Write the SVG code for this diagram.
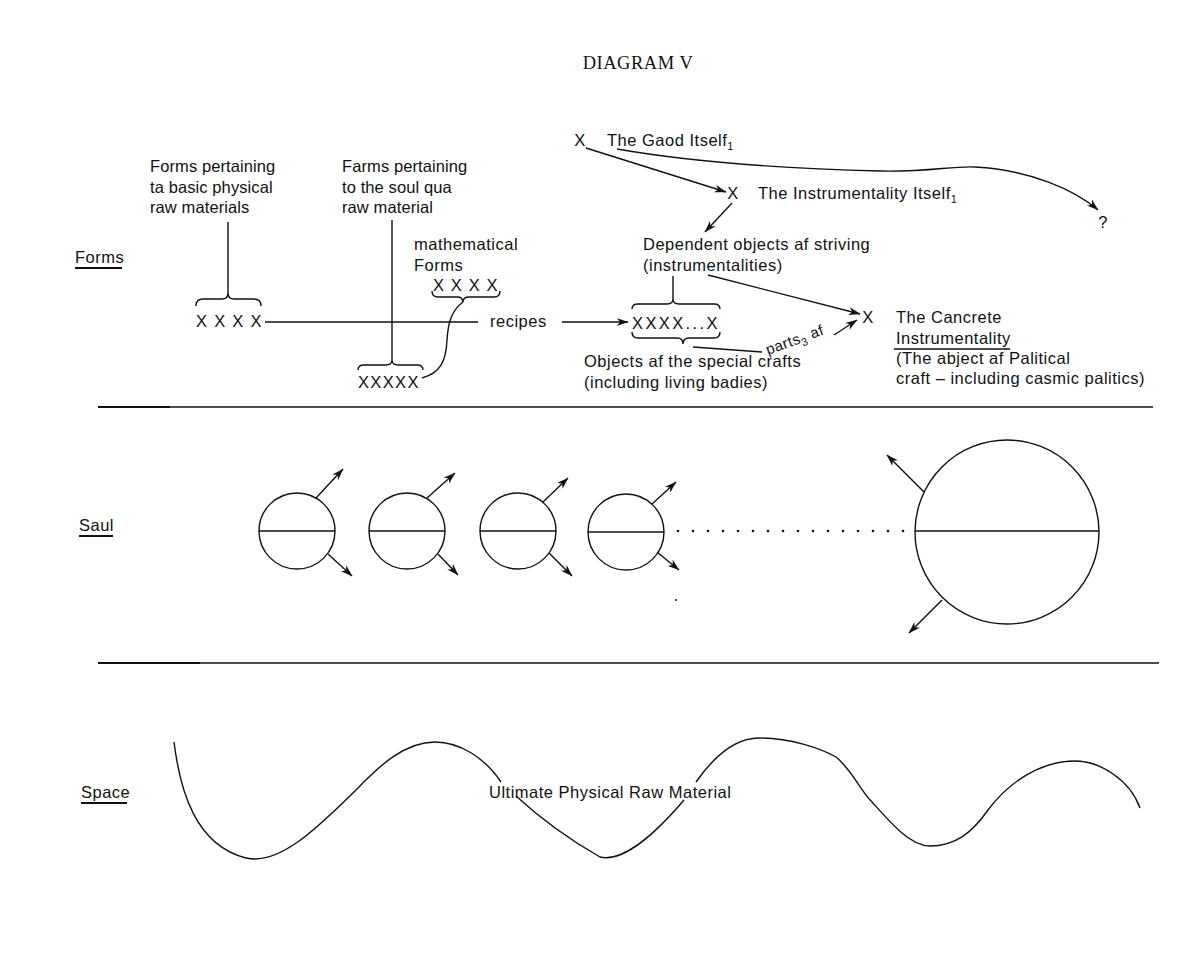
<svg xmlns="http://www.w3.org/2000/svg" width="1200" height="970" viewBox="0 0 1200 970">
<style>
.t{font-family:"Liberation Sans",Arial,sans-serif;font-size:16.5px;letter-spacing:0.5px;fill:#111}
.tn{letter-spacing:0.1px}
.sub{font-size:11px}
.ln{stroke:#111;stroke-width:1.4;fill:none}
.ul{stroke:#111;stroke-width:2;fill:none}
.arr{marker-end:url(#ah)}
.dot{fill:#111}
</style>
<defs>
<marker id="ah" viewBox="0 0 12 8" refX="11.5" refY="4" markerWidth="12" markerHeight="8" markerUnits="userSpaceOnUse" orient="auto">
<path d="M0,0 L12,4 L0,8 L3.5,4 Z" fill="#111"/>
</marker>
</defs>
<rect width="1200" height="970" fill="#fff"/>

<text id="title" x="638" y="69" text-anchor="middle" style="font-family:'Liberation Serif','Times New Roman',serif;font-size:18.5px;letter-spacing:0.5px;fill:#111">DIAGRAM V</text>

<g id="label-forms"><text class="t" x="75" y="263">Forms</text><line class="ul" x1="75" y1="268" x2="122" y2="268"/></g>
<g id="label-saul"><text class="t" x="79" y="531">Saul</text><line class="ul" x1="79" y1="536" x2="113" y2="536"/></g>
<g id="label-space"><text class="t" x="81" y="798">Space</text><line class="ul" x1="81" y1="803" x2="127" y2="803"/></g>

<g id="separators">
<line class="ln" x1="98" y1="407" x2="1153" y2="407"/>
<line class="ul" x1="98" y1="407" x2="170" y2="407"/>
<line class="ln" x1="98" y1="663" x2="1159" y2="663"/>
<line class="ul" x1="98" y1="663" x2="200" y2="663"/>
</g>

<g id="node-forms-physical">
<text class="t tn" x="150" y="172">Forms pertaining</text>
<text class="t tn" x="150" y="193">ta basic physical</text>
<text class="t tn" x="150" y="213">raw materials</text>
</g>
<g id="node-xxxx-physical">
<path class="ln" d="M196,306 Q196,299 203,299 L222,299 Q228,299 228,293 Q228,299 234,299 L254,299 Q261,299 261,306"/>
<text class="t" x="196" y="327" textLength="66">X X X X</text>
</g>

<g id="node-forms-soul">
<text class="t tn" x="342" y="172">Farms pertaining</text>
<text class="t tn" x="342" y="193">to the soul qua</text>
<text class="t tn" x="342" y="213">raw material</text>
</g>
<g id="node-xxxxx-soul">
<path class="ln" d="M358,370 Q358,365 364,365 L386,365 Q392,365 392,360 Q392,365 398,365 L417,365 Q423,365 423,370"/>
<text class="t" x="358" y="388" textLength="61">XXXXX</text>
</g>

<g id="node-math-forms">
<text class="t" x="414" y="250">mathematical</text>
<text class="t" x="414" y="271">Forms</text>
<text class="t" x="433" y="291" textLength="65">X X X X</text>
<path class="ln" d="M432,291 Q432,297 438,297 L457,297 Q463,297 463,302 Q463,297 469,297 L494,297 Q500,297 500,291"/>
</g>

<g id="node-recipes"><text class="t" x="490" y="327">recipes</text></g>

<g id="node-crafts">
<path class="ln" d="M632,309 Q632,304 638,304 L667,304 Q673,304 673,299 Q673,304 679,304 L714,304 Q720,304 720,309"/>
<text class="t" x="632" y="329" textLength="86">XXXX...X</text>
<path class="ln" d="M632,332 Q632,338 638,338 L677,338 Q683,338 683,344 Q683,338 689,338 L714,338 Q720,338 720,332"/>
<text class="t" x="584" y="367">Objects af the special crafts</text>
<text class="t" x="584" y="388">(including living badies)</text>
</g>

<g id="node-good">
<text class="t" x="580" y="146" text-anchor="middle">X</text>
<text class="t" x="607" y="146">The Gaod Itself<tspan class="sub" dy="4">1</tspan></text>
</g>

<g id="node-instr">
<text class="t" x="733" y="199" text-anchor="middle">X</text>
<text class="t" x="758" y="199">The Instrumentality Itself<tspan class="sub" dy="4">1</tspan></text>
</g>

<g id="node-question"><text class="t" x="1103" y="228" text-anchor="middle">?</text></g>

<g id="node-dependent">
<text class="t" x="643" y="250">Dependent objects af striving</text>
<text class="t" x="643" y="271">(instrumentalities)</text>
</g>

<g id="node-concrete">
<text class="t" x="868" y="323" text-anchor="middle">X</text>
<text class="t" x="896" y="323">The Cancrete</text>
<text class="t" x="896" y="344">Instrumentality</text>
<line class="ln" x1="894" y1="349" x2="1010" y2="349"/>
<text class="t" x="896" y="364">(The abject af Palitical</text>
<text class="t" x="896" y="384">craft – including casmic palitics)</text>
</g>

<g id="connectors">
<line class="ln" x1="228" y1="222" x2="228" y2="293"/>
<line class="ln" x1="392" y1="220" x2="392" y2="360"/>
<line class="ln" x1="265" y1="322" x2="478" y2="322"/>
<path class="ln" d="M463,302 C452,310 448,322 447,340 C446,362 440,373 422,378"/>
<line class="ln arr" x1="562" y1="322" x2="628" y2="322"/>
<line class="ln" x1="673" y1="276" x2="673" y2="299"/>
<line class="ln arr" x1="708" y1="275" x2="860" y2="314"/>
<line class="ln arr" x1="586" y1="148" x2="726" y2="192"/>
<line class="ln arr" x1="732" y1="203" x2="705" y2="232"/>
<path class="ln arr" d="M617,149 C680,160 760,168 880,171 C930,172 950,166 975,167 C1030,170 1075,190 1098,210"/>
<line class="ln" x1="693" y1="347" x2="762" y2="352"/>
<text class="t" transform="translate(768,355) rotate(-20)" style="font-size:15px">parts<tspan class="sub" dy="4">3</tspan><tspan dy="-4"> af</tspan></text>
<line class="ln arr" x1="834" y1="335" x2="857" y2="320"/>
</g>

<g id="soul-1">
<circle class="ln" cx="297" cy="531" r="38"/><line class="ln" x1="259" y1="531" x2="335" y2="531"/>
<line class="ln arr" x1="316" y1="498" x2="343" y2="469"/>
<line class="ln arr" x1="328" y1="554" x2="352" y2="576"/>
</g>
<g id="soul-2">
<circle class="ln" cx="407" cy="531" r="38"/><line class="ln" x1="369" y1="531" x2="445" y2="531"/>
<line class="ln arr" x1="427" y1="498" x2="455" y2="473"/>
<line class="ln arr" x1="438" y1="554" x2="458" y2="575"/>
</g>
<g id="soul-3">
<circle class="ln" cx="518" cy="531" r="38"/><line class="ln" x1="480" y1="531" x2="556" y2="531"/>
<line class="ln arr" x1="543" y1="502" x2="568" y2="478"/>
<line class="ln arr" x1="549" y1="553" x2="572" y2="576"/>
</g>
<g id="soul-4">
<circle class="ln" cx="626" cy="532" r="38"/><line class="ln" x1="588" y1="532" x2="664" y2="532"/>
<line class="ln arr" x1="652" y1="504" x2="676" y2="482"/>
<line class="ln arr" x1="657" y1="552" x2="679" y2="570"/>
</g>
<g id="soul-dots">
<circle class="dot" cx="678" cy="531" r="1.3"/><circle class="dot" cx="693" cy="531" r="1.3"/><circle class="dot" cx="708" cy="531" r="1.3"/><circle class="dot" cx="723" cy="531" r="1.3"/>
<circle class="dot" cx="738" cy="531" r="1.3"/><circle class="dot" cx="753" cy="531" r="1.3"/><circle class="dot" cx="768" cy="531" r="1.3"/><circle class="dot" cx="783" cy="531" r="1.3"/>
<circle class="dot" cx="798" cy="531" r="1.3"/><circle class="dot" cx="813" cy="531" r="1.3"/><circle class="dot" cx="828" cy="531" r="1.3"/><circle class="dot" cx="843" cy="531" r="1.3"/>
<circle class="dot" cx="858" cy="531" r="1.3"/><circle class="dot" cx="873" cy="531" r="1.3"/><circle class="dot" cx="888" cy="531" r="1.3"/><circle class="dot" cx="903" cy="531" r="1.3"/>
<circle class="dot" cx="676" cy="600" r="1"/>
</g>
<g id="soul-world">
<circle class="ln" cx="1007" cy="532" r="92"/><line class="ln" x1="915" y1="531" x2="1099" y2="531"/>
<line class="ln arr" x1="924" y1="492" x2="887" y2="455"/>
<line class="ln arr" x1="942" y1="600" x2="909" y2="633"/>
</g>

<g id="space">
<path class="ln" d="M174,742 C180,790 195,845 246,858 C280,866 320,825 356,790 C380,765 405,742 435,742 C460,742 485,758 501,782"/>
<path class="ln" d="M516,796 C540,818 570,840 600,857 C620,862 650,840 684,800"/>
<path class="ln" d="M696,782 C715,755 735,738 759,738 C790,738 820,748 836,757 C852,770 860,790 872,802 C890,822 910,846 930,846 C955,846 972,833 988,810 C1008,783 1040,761 1075,761 C1100,761 1130,780 1140,808"/>
<text class="t" x="489" y="798">Ultimate Physical Raw Material</text>
</g>
</svg>
